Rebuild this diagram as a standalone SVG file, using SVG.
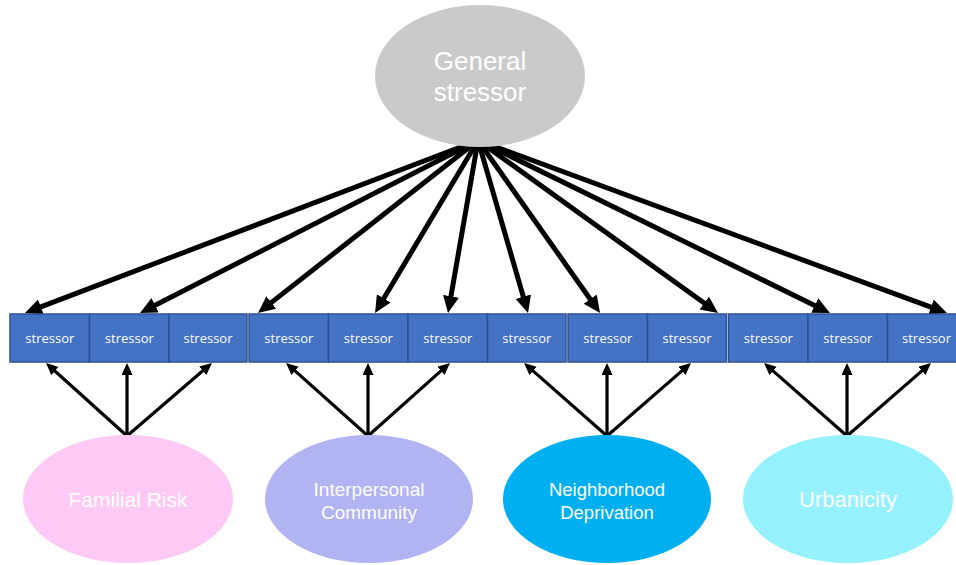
<svg xmlns="http://www.w3.org/2000/svg" width="956" height="565" viewBox="0 0 956 565">
<style>
.box{fill:#4472C4;stroke:#2F528F;stroke-width:1.5}
.bt{font-family:"Open Sans","Liberation Sans",Arial,sans-serif;font-size:13px;fill:#fff;text-anchor:middle}
.lt{font-family:"Liberation Sans",Arial,sans-serif;fill:#fff;text-anchor:middle}
.ta{stroke:#000;stroke-width:5;fill:none;marker-end:url(#hb)}
.ba{stroke:#000;stroke-width:3.2;fill:none;marker-end:url(#hs)}
</style>
<defs>
<marker id="hb" markerUnits="userSpaceOnUse" markerWidth="18" markerHeight="17" refX="5" refY="8" orient="auto"><path d="M0,0 L17,8 L0,16 z" fill="#000"/></marker>
<marker id="hs" markerUnits="userSpaceOnUse" markerWidth="13" markerHeight="12" refX="3" refY="5.5" orient="auto"><path d="M0,0 L12,5.5 L0,11 z" fill="#000"/></marker>
</defs>
<rect width="956" height="565" fill="#fff"/>
<g id="connectors">
<line class="ta" x1="479" y1="140" x2="36.2" y2="308.7"/>
<line class="ta" x1="478.7" y1="140" x2="150.7" y2="307.5"/>
<line class="ta" x1="478.5" y1="140" x2="267.4" y2="305.6"/>
<line class="ta" x1="478.3" y1="140" x2="381.2" y2="302.7"/>
<line class="ta" x1="478.1" y1="140" x2="450.1" y2="301.2"/>
<line class="ta" x1="477.9" y1="140" x2="524.7" y2="301.5"/>
<line class="ta" x1="477.7" y1="140" x2="593.1" y2="303.2"/>
<line class="ta" x1="477.5" y1="140" x2="708.3" y2="306"/>
<line class="ta" x1="477.2" y1="140" x2="819.2" y2="307.7"/>
<line class="ta" x1="477" y1="140" x2="935.7" y2="308.9"/>
<line class="ba" x1="127" y1="436" x2="52.7" y2="369"/>
<line class="ba" x1="127" y1="436" x2="127" y2="372"/>
<line class="ba" x1="127" y1="436" x2="205.1" y2="368.8"/>
<line class="ba" x1="368" y1="436" x2="292.8" y2="368.9"/>
<line class="ba" x1="368" y1="436" x2="368" y2="372"/>
<line class="ba" x1="368" y1="436" x2="443.2" y2="368.9"/>
<line class="ba" x1="607" y1="436" x2="530.8" y2="368.9"/>
<line class="ba" x1="607" y1="436" x2="607" y2="372"/>
<line class="ba" x1="607" y1="436" x2="684.2" y2="368.9"/>
<line class="ba" x1="847" y1="436" x2="770.8" y2="368.9"/>
<line class="ba" x1="847" y1="436" x2="847" y2="372"/>
<line class="ba" x1="847" y1="436" x2="924.2" y2="368.9"/>
</g>
<g id="general">
<ellipse cx="480" cy="76" rx="105" ry="71" fill="#CBCACA"/>
<text class="lt" x="480" y="70" font-size="26">General</text>
<text class="lt" x="480" y="101" font-size="26">stressor</text>
</g>
<g id="stressors">
<g id="s1"><rect class="box" x="10" y="314" width="79.5" height="48"/><text class="bt" x="49.8" y="343">stressor</text></g>
<g id="s2"><rect class="box" x="89.5" y="314" width="79.5" height="48"/><text class="bt" x="129.3" y="343">stressor</text></g>
<g id="s3"><rect class="box" x="169" y="314" width="78" height="48"/><text class="bt" x="208" y="343">stressor</text></g>
<g id="s4"><rect class="box" x="249" y="314" width="79.5" height="48"/><text class="bt" x="288.8" y="343">stressor</text></g>
<g id="s5"><rect class="box" x="328.5" y="314" width="79.5" height="48"/><text class="bt" x="368.3" y="343">stressor</text></g>
<g id="s6"><rect class="box" x="408" y="314" width="79.5" height="48"/><text class="bt" x="447.8" y="343">stressor</text></g>
<g id="s7"><rect class="box" x="487.5" y="314" width="78.5" height="48"/><text class="bt" x="526.8" y="343">stressor</text></g>
<g id="s8"><rect class="box" x="568" y="314" width="79.5" height="48"/><text class="bt" x="607.8" y="343">stressor</text></g>
<g id="s9"><rect class="box" x="647.5" y="314" width="79" height="48"/><text class="bt" x="687" y="343">stressor</text></g>
<g id="s10"><rect class="box" x="728.5" y="314" width="79.5" height="48"/><text class="bt" x="768.3" y="343">stressor</text></g>
<g id="s11"><rect class="box" x="808" y="314" width="79.5" height="48"/><text class="bt" x="847.8" y="343">stressor</text></g>
<g id="s12"><rect class="box" x="887.5" y="314" width="79.5" height="48"/><text class="bt" x="926.5" y="343">stressor</text></g>
</g>
<g id="familial">
<ellipse cx="128" cy="499" rx="105" ry="64" fill="#FFC9F6"/>
<text class="lt" x="128" y="507" font-size="21">Familial Risk</text>
</g>
<g id="interpersonal">
<ellipse cx="369" cy="499" rx="104" ry="64" fill="#B2B3F2"/>
<text class="lt" x="369" y="496" font-size="19">Interpersonal</text>
<text class="lt" x="369" y="519" font-size="19">Community</text>
</g>
<g id="neighborhood">
<ellipse cx="607" cy="499" rx="104" ry="64" fill="#00AFEF"/>
<text class="lt" x="607" y="496" font-size="18.5">Neighborhood</text>
<text class="lt" x="607" y="519" font-size="18.5">Deprivation</text>
</g>
<g id="urbanicity">
<ellipse cx="848" cy="499" rx="105" ry="64" fill="#94F1FD"/>
<text class="lt" x="848" y="507" font-size="22">Urbanicity</text>
</g>
</svg>
